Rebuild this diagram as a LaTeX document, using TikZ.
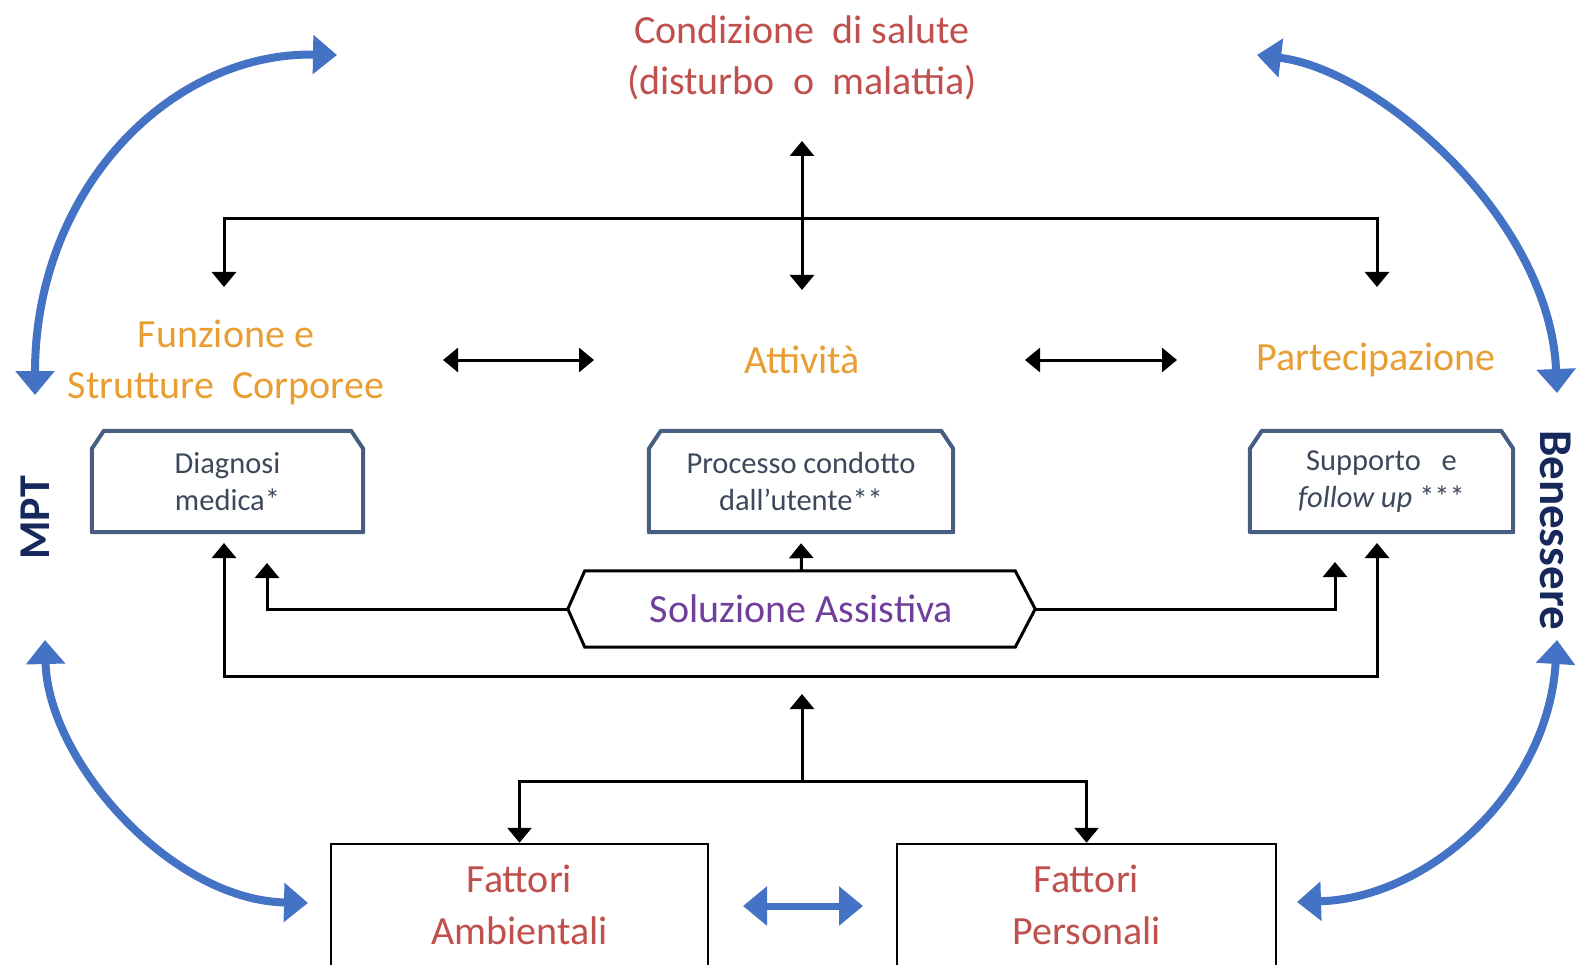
\documentclass[tikz,border=0pt]{standalone}
\usepackage{fontspec}
\setmainfont{Carlito}
\usetikzlibrary{arrows.meta}

\definecolor{healthred}{RGB}{192,80,77}
\definecolor{icforange}{RGB}{232,158,50}
\definecolor{solpurple}{RGB}{112,62,155}
\definecolor{boxedge}{RGB}{72,94,128}
\definecolor{boxtext}{RGB}{62,72,92}
\definecolor{loopblue}{RGB}{68,114,196}
\definecolor{navyside}{RGB}{22,40,92}

\tikzset{
  blktip/.tip={Triangle[length=15pt,width=24pt]},
  bluetip/.tip={Triangle[length=24pt,width=38pt]},
  blk/.style={line width=3pt,-blktip},
  blkboth/.style={line width=3pt,blktip-blktip},
  bluearc/.style={loopblue,line width=8pt,bluetip-bluetip},
  bigred/.style={healthred,align=center,font=\fontsize{40}{51}\selectfont},
  icf/.style={icforange,align=center,font=\fontsize{40}{51}\selectfont},
  boxslot/.style={draw=none,inner sep=0pt,minimum height=101pt},
  boxlabel/.style={boxtext,align=center,font=\fontsize{30.5}{37}\selectfont},
  boxline/.style={boxedge,line width=4pt,line join=round},
  factor/.style={draw,line width=2.5pt,inner sep=0pt,minimum height=170pt},
  side/.style={navyside,font=\bfseries},
}

% chamfered outline around a named box node
\newcommand\icfchamfer[1]{%
  \draw[boxline] (#1.south west) -- ([yshift=-18pt]#1.north west)
    -- ([xshift=12pt]#1.north west) -- ([xshift=-12pt]#1.north east)
    -- ([yshift=-18pt]#1.north east) -- (#1.south east) -- cycle;}

\begin{document}
\begin{tikzpicture}[x=1pt,y=-1pt]
\fill[white] (0,0) rectangle (1578,965);
\useasboundingbox (0,0) rectangle (1578,965);
\clip (0,0) rectangle (1578,965);

% top: health condition
\node[bigred] (cond) at (802,58) {Condizione\ \ di salute\\(disturbo\ \ o\ \ malattia)};

% ICF components
\node[icf] (funz) at (226,362) {Funzione e\\Strutture\ \ Corporee};
\node[icf] (att) at (802,360) {Attività};
\node[icf] (part) at (1376,360) {Partecipazione};

% MPT boxes
\node[boxslot,minimum width=271pt] (diag) at (227.5,481.5) {};
\node[boxlabel] (diagt) at (diag) {Diagnosi\\medica*};
\node[boxslot,minimum width=304pt] (proc) at (801,481.5) {};
\node[boxlabel] (proct) at (proc) {Processo condotto\\dall’utente**};
\node[boxslot,minimum width=263pt] (supp) at (1381.5,481.5) {};
\node[boxlabel] (suppt) at (supp) {Supporto\ \ \ e\\\textit{follow up} ***};
\icfchamfer{diag}
\icfchamfer{proc}
\icfchamfer{supp}

% assistive solution (hexagon)
\node[draw=none,inner sep=0pt,minimum width=467pt,minimum height=76pt] (sol) at (801.5,609) {};
\draw[line width=3pt,line join=miter] (sol.west) -- ([xshift=17pt]sol.north west)
  -- ([xshift=-20pt]sol.north east) -- (sol.east) -- ([xshift=-20pt]sol.south east)
  -- ([xshift=17pt]sol.south west) -- cycle;
\node[solpurple,font=\fontsize{40}{48}\selectfont] (solt) at (sol) {Soluzione Assistiva};

% contextual factors
\node[factor,minimum width=377pt] (fa) at (519.5,929) {};
\node[factor,minimum width=379pt] (fp) at (1086.5,929) {};
\node[bigred,font=\fontsize{40}{52}\selectfont] (fat) at (519.5,905) {Fattori\\Ambientali};
\node[bigred,font=\fontsize{40}{52}\selectfont] (fpt) at (1086.5,905) {Fattori\\Personali};

% side labels
\node[side,font=\fontsize{44}{50}\selectfont\bfseries,rotate=90] (mpt) at (35,518) {MPT};
\node[side,font=\fontsize{47}{54}\selectfont\bfseries,rotate=-90,inner sep=1pt] (ben) at (1556,530) {Benessere};

% junction points
\coordinate (topA) at (802,141);
\coordinate (topB) at (802,290);
\coordinate (tbus) at (802,219);
\coordinate (funzIn) at (224,287);
\coordinate (partIn) at (1377,287);
\coordinate (fa1) at (443,360);
\coordinate (fa2) at (594,360);
\coordinate (pa1) at (1025,360);
\coordinate (pa2) at (1177,360);
\coordinate (diagIn) at (267,563);
\coordinate (suppIn) at (1335,562);
\coordinate (loopL) at (224,543);
\coordinate (loopR) at (1377,543);
\coordinate (bbus) at (802,781);
\coordinate (bup) at (802,694);

% black connectors
\draw[blkboth] (topA) -- (topB);
\draw[blk] (tbus) -| (funzIn);
\draw[blk] (tbus) -| (partIn);
\draw[blkboth] (fa1) -- (fa2);
\draw[blkboth] (pa1) -- (pa2);
\draw[blk] (sol.north) -- ([yshift=-11pt]proc.south);
\draw[blk] (sol.west) -| (diagIn);
\draw[blk] (sol.east) -| (suppIn);
\draw[blkboth] (loopL) -- (224,676) -- (1377,676) -- (loopR);
\draw[blk] (bbus) -- (bup);
\draw[blk] (bbus) -| (fa.north);
\draw[blk] (bbus) -| (fp.north);

% blue curved arrows
\coordinate (tlA) at (337,55);  \coordinate (tlB) at (35,395);
\coordinate (trA) at (1257,55); \coordinate (trB) at (1557,393);
\coordinate (blA) at (45,640);  \coordinate (blB) at (308,903);
\coordinate (brA) at (1557,640);\coordinate (brB) at (1297,902);
\coordinate (mA) at (743,906);  \coordinate (mB) at (863,906);
\draw[bluearc] (tlA) .. controls (170,52) and (35,190) .. (tlB);
\draw[bluearc] (trA) .. controls (1380,70) and (1550,220) .. (trB);
\draw[bluearc] (blA) .. controls (48,760) and (170,900) .. (blB);
\draw[bluearc] (brA) .. controls (1548,790) and (1430,898) .. (brB);
\draw[loopblue,line width=7pt,bluetip-bluetip] (mA) -- (mB);
\end{tikzpicture}
\end{document}
